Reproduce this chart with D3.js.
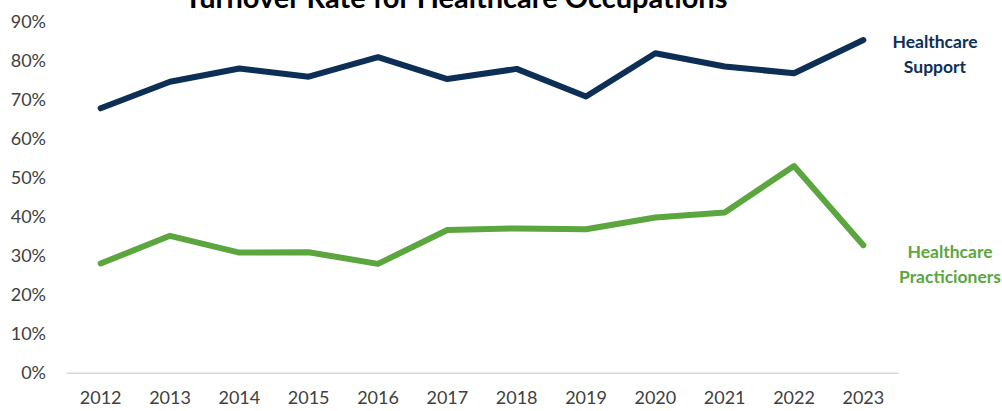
<!doctype html>
<html>
<head>
<style>
  body { margin: 0; background: #fff; }
  text { font-family: Lato, "Open Sans", sans-serif; }
  .tick text { fill: #404040; font-size: 18px; }
</style>
<script src="https://d3js.org/d3.v7.min.js"></script>
</head>
<body>
<svg width="1002" height="411"></svg>
<script>
var years = ["2012","2013","2014","2015","2016","2017","2018","2019","2020","2021","2022","2023"];
var support = [67.8, 74.6, 78.0, 75.9, 80.9, 75.3, 77.9, 70.8, 81.9, 78.5, 76.8, 85.3];
var practitioners = [28.0, 35.1, 30.8, 30.9, 27.9, 36.6, 37.0, 36.8, 39.8, 41.1, 53.0, 32.7];
var yTicks = [0, 10, 20, 30, 40, 50, 60, 70, 80, 90];

var svg = d3.select("svg");
var m = {left: 66, right: 898, top: 21.7, bottom: 372.7};

var x = d3.scaleBand().domain(years).range([m.left, m.right]);
var y = d3.scaleLinear().domain([0, 90]).range([m.bottom, m.top]);

svg.append("text")
   .attr("x", 456).attr("y", 8)
   .attr("text-anchor", "middle")
   .attr("font-size", "29px")
   .attr("font-weight", "bold")
   .attr("fill", "#000")
   .text("Turnover Rate for Healthcare Occupations");

// y axis labels only
svg.append("g")
   .attr("transform", "translate(" + (m.left - 8) + ",0)")
   .call(d3.axisLeft(y).tickValues(yTicks).tickSize(0).tickPadding(12)
         .tickFormat(function(d){ return d + "%"; }))
   .call(function(g){ g.select(".domain").remove(); });

// x axis
svg.append("g")
   .attr("transform", "translate(0," + m.bottom + ")")
   .call(d3.axisBottom(x).tickSize(0).tickPadding(19))
   .call(function(g){ g.select(".domain").attr("stroke", "#d9d9d9").attr("stroke-width", 1.5); });

var line = d3.line()
    .x(function(d, i){ return x(years[i]) + x.bandwidth() / 2; })
    .y(function(d){ return y(d); });

svg.append("path").datum(support)
   .attr("d", line).attr("fill", "none")
   .attr("stroke", "#0d2e55").attr("stroke-width", 6)
   .attr("stroke-linejoin", "round").attr("stroke-linecap", "round");

svg.append("path").datum(practitioners)
   .attr("d", line).attr("fill", "none")
   .attr("stroke", "#5ba63f").attr("stroke-width", 6)
   .attr("stroke-linejoin", "round").attr("stroke-linecap", "round");

function label(lines, cx, cy, color) {
  var t = svg.append("text")
     .attr("text-anchor", "middle")
     .attr("font-size", "17.5px")
     .attr("font-weight", "bold")
     .attr("fill", color);
  lines.forEach(function(s, i){
    t.append("tspan").attr("x", cx).attr("y", cy + i * 25).text(s);
  });
}
label(["Healthcare", "Support"], 935, 48, "#0d2e55");
label(["Healthcare", "Practicioners"], 950, 258, "#5ba63f");
</script>
</body>
</html>
